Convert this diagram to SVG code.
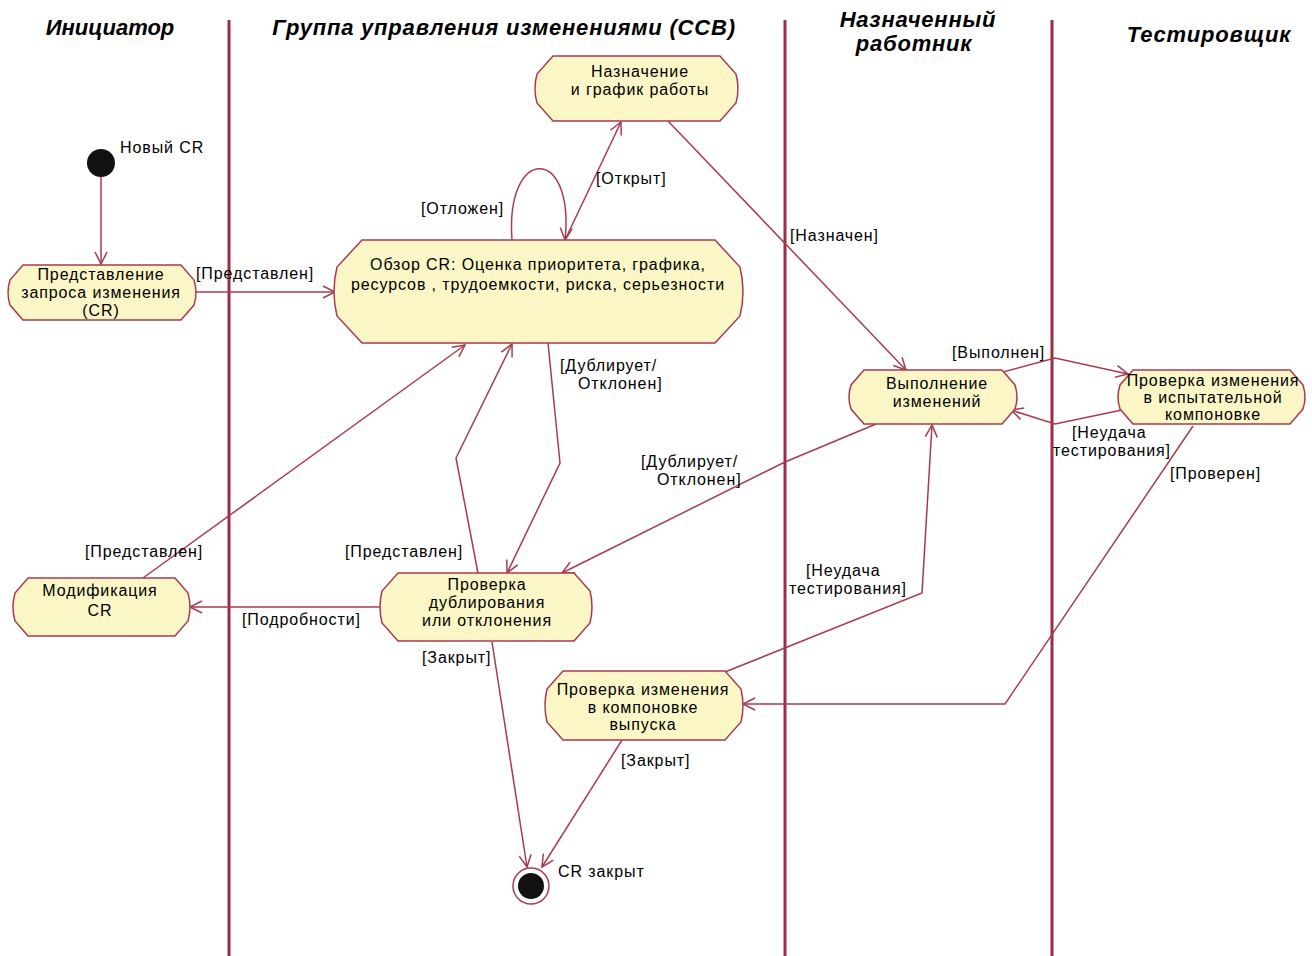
<svg xmlns="http://www.w3.org/2000/svg" width="1312" height="956" viewBox="0 0 1312 956">
<style>
.lane{stroke:#9b2d45;stroke-width:3}
.hdr{font-family:"Liberation Sans",Arial,sans-serif;font-weight:bold;font-style:italic;font-size:22px;fill:#000;text-anchor:middle}
.node{fill:#fbf6c6;stroke:#a83a50;stroke-width:1.5}
.t{font-family:"Liberation Sans",Arial,sans-serif;font-size:16px;fill:#000;letter-spacing:0.9px}
.c{text-anchor:middle}
.e{fill:none;stroke:#a83a50;stroke-width:1.5}
</style>
<defs>
<marker id="arr" markerUnits="userSpaceOnUse" markerWidth="16" markerHeight="16" refX="13" refY="7" orient="auto">
<path d="M1,1 L13,7 L1,13" fill="none" stroke="#a83a50" stroke-width="1.5"/>
</marker>
</defs>
<rect width="1312" height="956" fill="#fff"/>
<g id="lanes">
<line class="lane" x1="229" y1="20" x2="229" y2="956"/>
<line class="lane" x1="785" y1="20" x2="785" y2="956"/>
<line class="lane" x1="1052" y1="20" x2="1052" y2="956"/>
<text class="hdr" x="110" y="35">Инициатор</text>
<text class="hdr" x="504" y="35" letter-spacing="0.8">Группа управления изменениями (CCB)</text>
<text class="hdr" x="918" y="27" letter-spacing="0.8">Назначенный</text>
<text class="hdr" x="914" y="51" letter-spacing="0.8">работник</text>
<text class="hdr" x="1209" y="42" letter-spacing="0.8">Тестировщик</text>
</g>
<g id="edges">
<line class="e" x1="101" y1="177" x2="101" y2="264" marker-end="url(#arr)"/>
<line class="e" x1="196" y1="292" x2="335" y2="292" marker-end="url(#arr)"/>
<path class="e" d="M512,240 C505,145 575,145 565,240" marker-end="url(#arr)"/>
<line class="e" x1="565" y1="240" x2="621" y2="122" marker-end="url(#arr)"/>
<line class="e" x1="668" y1="121" x2="906" y2="370" marker-end="url(#arr)"/>
<polyline class="e" points="1003,372 1055,358 1128,374" marker-end="url(#arr)"/>
<polyline class="e" points="1122,410 1055,424 1011,410" marker-end="url(#arr)"/>
<polyline class="e" points="548,343 560,463 507,573" marker-end="url(#arr)"/>
<polyline class="e" points="478,573 456,458 512,344" marker-end="url(#arr)"/>
<polyline class="e" points="876,424 785,462 562,573" marker-end="url(#arr)"/>
<line class="e" x1="380" y1="607" x2="190" y2="607" marker-end="url(#arr)"/>
<line class="e" x1="143" y1="578" x2="465" y2="345" marker-end="url(#arr)"/>
<polyline class="e" points="1193,426 1005,704 743,704" marker-end="url(#arr)"/>
<polyline class="e" points="725,672 922,593 932,425" marker-end="url(#arr)"/>
<line class="e" x1="492" y1="642" x2="527" y2="867" marker-end="url(#arr)"/>
<line class="e" x1="622" y1="740" x2="542" y2="867" marker-end="url(#arr)"/>
<text class="t" x="196" y="279">[Представлен]</text>
<text class="t" x="421" y="214">[Отложен]</text>
<text class="t" x="596" y="184">[Открыт]</text>
<text class="t" x="790" y="241">[Назначен]</text>
<text class="t" x="952" y="358">[Выполнен]</text>
<text class="t" x="1072" y="438">[Неудача</text>
<text class="t" x="1053" y="456">тестирования]</text>
<text class="t" x="1170" y="479">[Проверен]</text>
<text class="t" x="560" y="371">[Дублирует/</text>
<text class="t" x="578" y="389">Отклонен]</text>
<text class="t" x="641" y="467">[Дублирует/</text>
<text class="t" x="657" y="485">Отклонен]</text>
<text class="t" x="85" y="557">[Представлен]</text>
<text class="t" x="345" y="557">[Представлен]</text>
<text class="t" x="242" y="625">[Подробности]</text>
<text class="t" x="422" y="663">[Закрыт]</text>
<text class="t" x="806" y="576">[Неудача</text>
<text class="t" x="789" y="594">тестирования]</text>
<text class="t" x="621" y="766">[Закрыт]</text>
</g>
<g id="start">
<circle cx="101" cy="163" r="14" fill="#111"/>
<text class="t" x="120" y="153">Новый CR</text>
</g>
<g id="submit">
<path class="node" d="M23,265 H181 L194,280 Q198,292.5 194,305 L181,320 H23 L10,305 Q6,292.5 10,280 Z"/>
<text class="t c" x="101" y="280">Представление</text>
<text class="t c" x="101" y="298">запроса изменения</text>
<text class="t c" x="101" y="316">(CR)</text>
</g>
<g id="review">
<path class="node" d="M362,240 H715 L740,267 Q746,291.5 740,316 L715,343 H362 L337,316 Q331,291.5 337,267 Z"/>
<text class="t c" x="538" y="270">Обзор CR: Оценка приоритета, графика,</text>
<text class="t c" x="538" y="290">ресурсов , трудоемкости, риска, серьезности</text>
</g>
<g id="assign">
<path class="node" d="M553,56 H720 L736,74 Q740,88.5 736,103 L720,121 H553 L537,103 Q533,88.5 537,74 Z"/>
<text class="t c" x="640" y="77">Назначение</text>
<text class="t c" x="640" y="95">и график работы</text>
</g>
<g id="implement">
<path class="node" d="M864,370 H1002 L1015,385 Q1019,397 1015,409 L1002,424 H864 L851,409 Q847,397 851,385 Z"/>
<text class="t c" x="937" y="389">Выполнение</text>
<text class="t c" x="937" y="407">изменений</text>
</g>
<g id="testbuild">
<path class="node" d="M1133,370 H1290 L1303,385 Q1307,397 1303,409 L1290,424 H1133 L1120,409 Q1116,397 1120,385 Z"/>
<text class="t c" x="1213" y="386" letter-spacing="0.3">Проверка изменения</text>
<text class="t c" x="1213" y="403">в испытательной</text>
<text class="t c" x="1213" y="420">компоновке</text>
</g>
<g id="dupcheck">
<path class="node" d="M398,573 H574 L590,591 Q594,607 590,623 L574,641 H398 L382,623 Q378,607 382,591 Z"/>
<text class="t c" x="487" y="590">Проверка</text>
<text class="t c" x="487" y="608">дублирования</text>
<text class="t c" x="487" y="626">или отклонения</text>
</g>
<g id="modify">
<path class="node" d="M28,578 H175 L188,593 Q192,607 188,621 L175,636 H28 L15,621 Q11,607 15,593 Z"/>
<text class="t c" x="100" y="596">Модификация</text>
<text class="t c" x="100" y="616">CR</text>
</g>
<g id="release">
<path class="node" d="M563,671 H725 L741,689 Q745,705.5 741,722 L725,740 H563 L547,722 Q543,705.5 547,689 Z"/>
<text class="t c" x="643" y="695">Проверка изменения</text>
<text class="t c" x="643" y="713">в компоновке</text>
<text class="t c" x="643" y="730">выпуска</text>
</g>
<g id="end">
<circle cx="531" cy="886" r="18" fill="#fff" stroke="#a83a50" stroke-width="1.5"/>
<circle cx="531" cy="886" r="13" fill="#111"/>
<text class="t" x="558" y="877">CR закрыт</text>
</g>
</svg>
